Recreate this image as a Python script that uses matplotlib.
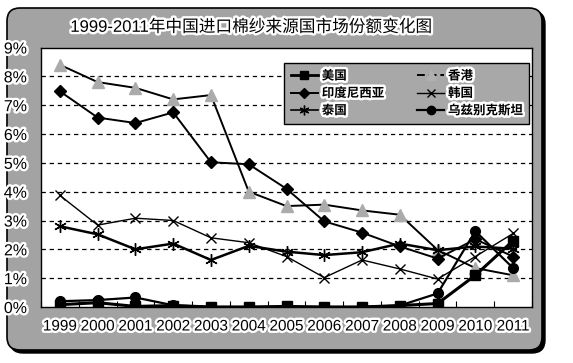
import matplotlib
matplotlib.use("Agg")
import matplotlib.pyplot as plt
import matplotlib.patches as mpatches
import matplotlib.patheffects as pe
from matplotlib.lines import Line2D
import numpy as np

plt.rcParams['font.family'] = ['Noto Sans CJK SC', 'DejaVu Sans']

years = ['1999', '2000', '2001', '2002', '2003', '2004', '2005',
         '2006', '2007', '2008', '2009', '2010', '2011']
usa = [0.08, 0.15, 0.02, 0.05, 0.0, 0.0, 0.02, 0.0, 0.0, 0.05, 0.12, 1.1, 2.3]
hongkong = [8.4, 7.8, 7.6, 7.2, 7.35, 4.0, 3.5, 3.55, 3.35, 3.2, 1.98, 1.35, 1.1]
indonesia = [7.48, 6.57, 6.38, 6.75, 5.02, 4.95, 4.1, 2.97, 2.58, 2.1, 1.68, 2.35, 1.75]
korea = [3.87, 2.84, 3.08, 3.0, 2.4, 2.23, 1.75, 1.02, 1.63, 1.32, 0.97, 1.75, 2.55]
thailand = [2.8, 2.52, 2.0, 2.2, 1.63, 2.12, 1.92, 1.8, 1.9, 2.2, 1.97, 2.1, 2.02]
uzbek = [0.2, 0.24, 0.33, 0.06, 0.0, 0.0, 0.0, 0.0, 0.0, 0.05, 0.47, 2.63, 1.35]
ytick_labels = ['0%', '1%', '2%', '3%', '4%', '5%', '6%', '7%', '8%', '9%']
title = '1999-2011年中国进口棉纱来源国市场份额变化图'
names = ['美国', '香港', '印度尼西亚', '韩国', '泰国', '乌兹别克斯坦']

W, H = 573, 363
fig = plt.figure(figsize=(W / 100, H / 100), dpi=100)
fig.patch.set_facecolor('white')

# background frame
bg = fig.add_axes([0, 0, 1, 1], zorder=0)
bg.set_xlim(0, W)
bg.set_ylim(H, 0)
bg.axis('off')
shadow = mpatches.FancyBboxPatch((10, 11), 535, 342, boxstyle='round,pad=0,rounding_size=13',
                                 facecolor='black', edgecolor='black', lw=1)
bg.add_patch(shadow)
frame = mpatches.FancyBboxPatch((7, 8), 535, 342, boxstyle='round,pad=0,rounding_size=13',
                                facecolor='#a3a3a3', edgecolor='black', lw=1.2)
bg.add_patch(frame)

glow = [pe.withStroke(linewidth=3.5, foreground='white')]
bg.text(251, 27, title, ha='center', va='center', fontsize=12,
        family=['Liberation Sans', 'Noto Sans CJK SC'], path_effects=glow)

left, right, top, bottom = 41, 532, 47.5, 307
ax = fig.add_axes([left / W, 1 - bottom / H, (right - left) / W, (bottom - top) / H], zorder=2)
ax.set_facecolor('white')
x = np.arange(len(years))

ax.set_xlim(-0.5, len(years) - 0.5)
ax.set_ylim(0, 9)
ax.set_yticks(range(len(ytick_labels)))
ax.set_yticklabels(ytick_labels, family='Liberation Sans', fontsize=11.5, path_effects=glow)
ax.set_xticks(x)
ax.set_xticklabels(years, family='Liberation Sans', fontsize=11, path_effects=glow)
ax.set_xticks(np.arange(-0.5, len(years), 1), minor=True)
ax.tick_params(axis='x', which='major', length=0, pad=9)
ax.tick_params(axis='x', which='minor', length=4, direction='in', width=0.8)
ax.tick_params(axis='y', length=0, pad=10)
for yv in range(1, 9):
    ax.axhline(yv, color='black', lw=0.9, ls=(0, (3.5, 3)), zorder=1)
for s in ax.spines.values():
    s.set_color('black')
    s.set_linewidth(1)

ax.plot(x, hongkong, color='black', lw=1.4, marker='^', ms=8, mfc='#ababab', mec='#ababab', zorder=3)
ax.plot(x, korea, color='black', lw=1.0, marker='x', ms=7, mew=1.0, zorder=3)
ax.plot(x, indonesia, color='black', lw=1.4, marker='D', ms=6, zorder=4)
ax.plot(x, thailand, color='black', lw=1.8, marker=(6, 2, 0), ms=9, mew=1.0, zorder=4)
ax.plot(x, uzbek, color='black', lw=1.6, marker='o', ms=7, zorder=5)
ax.plot(x, usa, color='black', lw=2.2, marker='s', ms=7, zorder=5)

handles = [
    Line2D([], [], color='black', lw=2, marker='s', ms=6),
    Line2D([], [], color='black', lw=1.4, marker='D', ms=5),
    Line2D([], [], color='black', lw=1.2, marker=(6, 2, 0), ms=7),
    Line2D([], [], color='black', lw=1.4, ls=(0, (4, 2)), marker='^', ms=7, mfc='#b0b0b0', mec='#b0b0b0'),
    Line2D([], [], color='black', lw=1.0, marker='x', ms=6),
    Line2D([], [], color='black', lw=1.6, marker='o', ms=6),
]
labels = [names[0], names[2], names[4], names[1], names[3], names[5]]
leg = ax.legend(handles, labels, ncol=2, loc='upper left',
                bbox_to_anchor=((278 - left) / (right - left), 1 - (57 - top) / (bottom - top)),
                bbox_transform=ax.transAxes, frameon=True, fancybox=False,
                facecolor='#a8a8a8', edgecolor='black', framealpha=1,
                prop={'family': ['Noto Sans CJK SC', 'DejaVu Sans'], 'size': 9, 'weight': 'bold'},
                handlelength=2.2, handletextpad=0.3, columnspacing=2.6,
                labelspacing=0.35, borderpad=0.5)
leg.get_frame().set_linewidth(1)
leg.set_zorder(10)
for t in leg.get_texts():
    t.set_path_effects(glow)

fig.savefig('out.png', dpi=100, facecolor='white')
